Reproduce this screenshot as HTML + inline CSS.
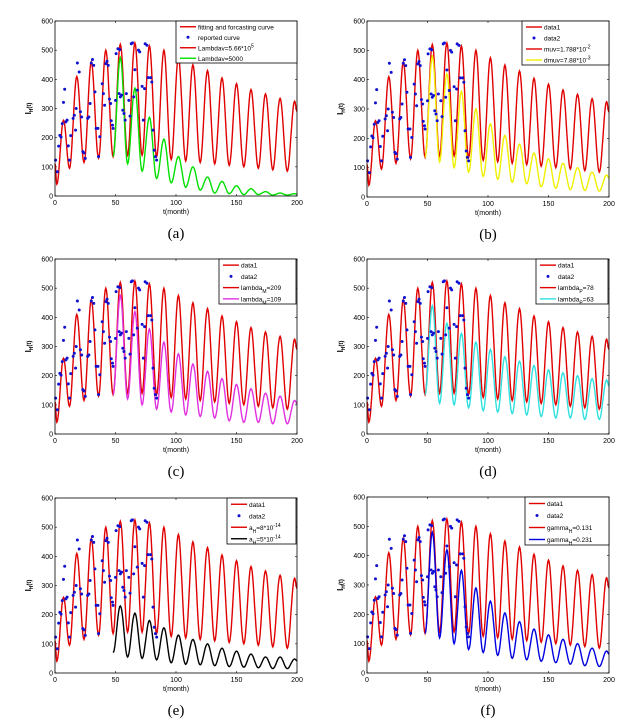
<!DOCTYPE html>
<html><head><meta charset="utf-8"><style>
html,body{margin:0;padding:0;background:#fff}
svg{display:block}
text{font-family:"Liberation Sans",sans-serif}
</style></head><body>
<svg id="fig" width="634" height="726" viewBox="0 0 634 726" xmlns="http://www.w3.org/2000/svg"></svg>
<script>
const xTicks=[0,50,100,150,200];
const yTicks=[0,100,200,300,400,500,600];
const redT=[0,1.5,7,12,18,24,30,36,42,48,54,60,66,72,78,84,90,96,102,108,114,120,126,132,138,144,150,156,162,168,174,180,186,192,198,200];
const redV=[110,40,260,95,410,115,460,130,500,135,520,140,525,140,515,135,500,125,475,120,450,115,430,110,405,105,385,100,365,95,350,90,335,85,325,290];
const altT=[48,54,60,66,72,78,84,90,96,102,108,114,120,126,132,138,144,150,156,162,168,174,180,186,192,198,200];
const greenV=[135,475,110,370,85,270,60,195,45,135,30,100,20,65,10,50,8,35,5,25,5,15,3,10,3,8,6];
const yellowV=[135,480,120,420,100,360,85,300,70,250,60,210,50,180,45,150,35,130,30,115,25,100,22,85,20,75,65];
const magentaV=[135,475,120,420,100,360,85,315,75,275,65,240,60,215,55,190,45,170,40,155,40,140,35,130,35,115,105];
const cyanV=[135,440,105,380,100,345,90,315,80,290,75,265,70,250,65,235,60,220,55,210,55,200,50,190,50,185,165];
const blackV=[70,230,55,205,50,180,45,155,35,130,30,115,28,100,25,85,22,75,20,65,18,55,15,55,15,48,42];
const blueV=[135,480,120,420,100,350,80,290,70,245,60,205,50,175,45,150,40,130,35,115,30,100,25,85,22,75,65];
const ptT=[0.5,2,3,4,5,6,7,8,9,10,11,12,13,15,16,17,17.5,18.5,20,21,22,23,24,25,27,28,29,30,31,32,33,34,35.5,36,37,39,40,41,42,43,44,45,46,46.5,47.5,48,50,50.5,52,53,53.5,54,55,56,57,58,59,61,62,63,64,65,66,68,69,70,72,73,74,74.5,76,77,79,80,81,82,83,84];
const ptV=[123,83,171,208,202,248,321,366,254,260,172,123,207,266,277,226,300,456,425,289,271,152,148,129,266,271,317,456,468,448,357,232,232,135,203,385,351,311,454,462,448,332,317,258,243,232,328,488,505,351,502,340,346,294,283,260,351,328,274,522,525,340,433,363,500,494,376,260,368,522,517,406,406,391,226,157,135,123];

const panels=[
 {id:'a',x0:55,x1:297,y0:21,y1:196,alt:greenV,col:'#00e000',lg:[176,21,121,42],labels:['fitting and forcasting curve','reported curve','Lambdav=5.66*10<tspan dy="-3" font-size="5">5</tspan>','Lambdav=5000']},
 {id:'b',x0:367,x1:609,y0:21,y1:197,alt:yellowV,col:'#f0f000',lg:[522,21,87,44],labels:['data1','data2','muv=1.788*10<tspan dy="-3" font-size="5">-2</tspan>','dmuv=7.88*10<tspan dy="-3" font-size="5">-3</tspan>']},
 {id:'c',x0:55,x1:297,y0:259,y1:434,alt:magentaV,col:'#e030e0',lg:[219,259,77,45],labels:['data1','data2','lambda<tspan dy="3" font-size="5">M</tspan><tspan dy="-3">=209</tspan>','lambda<tspan dy="3" font-size="5">M</tspan><tspan dy="-3">=109</tspan>']},
 {id:'d',x0:367,x1:609,y0:259,y1:434,alt:cyanV,col:'#30e0e0',lg:[536,259,72,45],labels:['data1','data2','lambda<tspan dy="3" font-size="5">P</tspan><tspan dy="-3">=78</tspan>','lambda<tspan dy="3" font-size="5">P</tspan><tspan dy="-3">=63</tspan>']},
 {id:'e',x0:55,x1:297,y0:498,y1:673,alt:blackV,col:'#000000',lg:[227,498,69,46],labels:['data1','data2','a<tspan dy="3" font-size="5">H</tspan><tspan dy="-3">=8*10</tspan><tspan dy="-3" font-size="5">-14</tspan>','a<tspan dy="3" font-size="5">H</tspan><tspan dy="-3">=5*10</tspan><tspan dy="-3" font-size="5">-14</tspan>']},
 {id:'f',x0:367,x1:609,y0:497,y1:673,alt:blueV,col:'#0000e0',lg:[525,497,84,48],labels:['data1','data2','gamma<tspan dy="3" font-size="5">H</tspan><tspan dy="-3">=0.131</tspan>','gamma<tspan dy="3" font-size="5">H</tspan><tspan dy="-3">=0.231</tspan>']}
];
const NS='http://www.w3.org/2000/svg';
const svg=document.getElementById('fig');
function mk(tag,attrs,parent){const e=document.createElementNS(NS,tag);for(const k in attrs)e.setAttribute(k,attrs[k]);(parent||svg).appendChild(e);return e;}
function curve(T,V,sx,sy){let d='';for(let i=0;i<T.length-1;i++){const n=12;for(let j=0;j<=n;j++){if(i>0&&j==0)continue;const f=j/n,w=(1-Math.cos(Math.PI*f))/2;const t=T[i]+(T[i+1]-T[i])*f,v=V[i]+(V[i+1]-V[i])*w;d+=(d?'L':'M')+sx(t).toFixed(1)+','+sy(v).toFixed(1);}}return d;}
panels.forEach(p=>{
 const g=mk('g',{});
 
 
 const sx=t=>p.x0+(t/200)*(p.x1-p.x0), sy=v=>p.y1-(v/600)*(p.y1-p.y0);
 xTicks.forEach(t=>{mk('line',{x1:sx(t),x2:sx(t),y1:p.y1,y2:p.y1-2,stroke:'#000','stroke-width':0.6},g);mk('line',{x1:sx(t),x2:sx(t),y1:p.y0,y2:p.y0+2,stroke:'#000','stroke-width':0.6},g);const tx=mk('text',{x:sx(t),y:p.y1+9,'font-size':7,'text-anchor':'middle'},g);tx.textContent=t;});
 yTicks.forEach(v=>{mk('line',{x1:p.x0,x2:p.x0+2,y1:sy(v),y2:sy(v),stroke:'#000','stroke-width':0.6},g);mk('line',{x1:p.x1,x2:p.x1-2,y1:sy(v),y2:sy(v),stroke:'#000','stroke-width':0.6},g);const tx=mk('text',{x:p.x0-2,y:sy(v)+2.5,'font-size':7,'text-anchor':'end'},g);tx.textContent=v;});
 const red=mk('path',{d:curve(redT,redV,sx,sy),fill:'none',stroke:'#e00000','stroke-width':1.4},g);
 
 
 const alt=mk('path',{d:curve(altT,p.alt,sx,sy),fill:'none',stroke:p.col,'stroke-width':1.4},g);
 
 
 ptT.forEach((t,i)=>{const c=mk('circle',{cx:sx(t),cy:sy(ptV[i]),r:1.5,fill:'#1010d0'},g);});
 const fr=mk('rect',{x:p.x0,y:p.y0,width:p.x1-p.x0,height:p.y1-p.y0,fill:'none',stroke:'#000','stroke-width':0.8},g);
 
 
 const xl=mk('text',{x:(p.x0+p.x1)/2,y:p.y1+18,'font-size':7,'text-anchor':'middle'},g);xl.textContent='t(month)';
 
 
 const yl=mk('text',{x:0,y:0,'font-size':8,'font-weight':'bold',transform:`translate(${p.x0-24},${(p.y0+p.y1)/2}) rotate(-90)`,'text-anchor':'middle'},g);yl.innerHTML='I<tspan dy="2" font-size="5">H</tspan><tspan dy="-2" font-size="6">(t)</tspan>';
 
 
 const cap=mk('text',{x:(p.x0+p.x1)/2,y:p.y1+42,'font-size':15,'text-anchor':'middle',style:'font-family:"Liberation Serif",serif'},g);cap.textContent='('+p.id+')';
 
 
 const [lx,ly,lw,lh]=p.lg;
 const lgG=mk('g',{},g);
 
 
 mk('rect',{x:lx,y:ly,width:lw,height:lh,fill:'#fff',stroke:'#000','stroke-width':0.8},lgG);
 const cols=['#e00000',null,'#e00000',p.col];
 p.labels.forEach((lab,i)=>{const yy=ly+lh*(i+0.5)/4+0.5;
  if(cols[i])mk('line',{x1:lx+4,x2:lx+20,y1:yy,y2:yy,stroke:cols[i],'stroke-width':1.4},lgG);else mk('circle',{cx:lx+12,cy:yy,r:1.5,fill:'#1010d0'},lgG);
  const tx=mk('text',{x:lx+22,y:yy+2.5,'font-size':6.5},lgG);tx.innerHTML=lab;
  
  });
});
</script>
</body></html>
